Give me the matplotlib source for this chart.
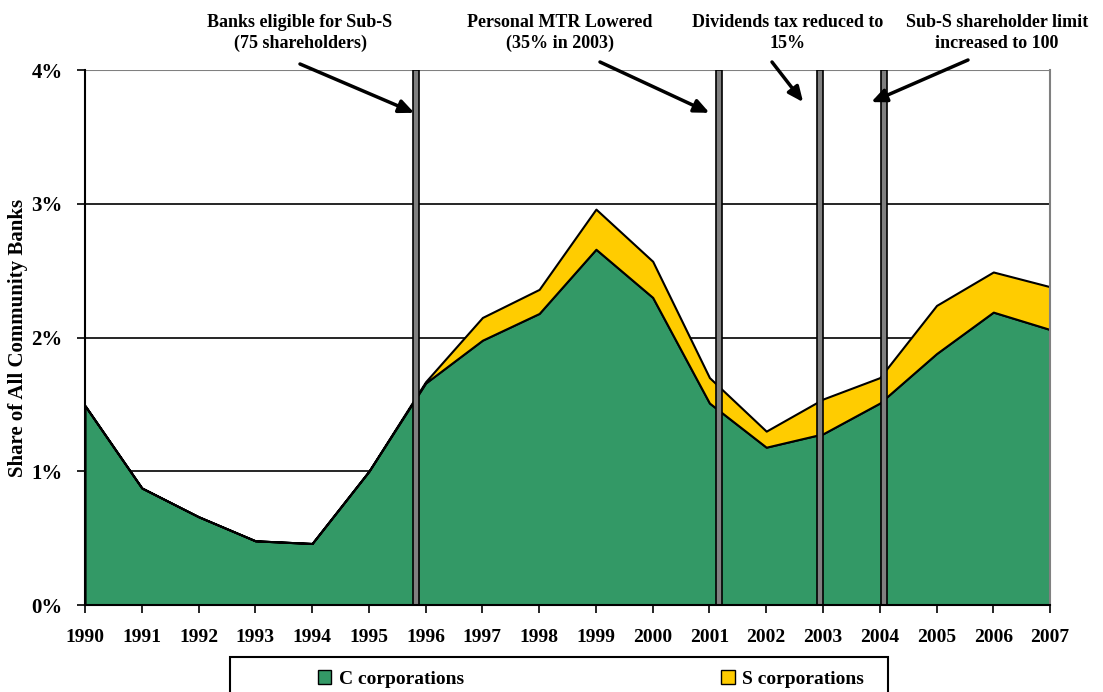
import numpy as np
import matplotlib
matplotlib.use('Agg')
import matplotlib.pyplot as plt
from matplotlib.patches import Patch, Rectangle

years = list(range(1990, 2008))
c_corp = [1.49, 0.875, 0.66, 0.48, 0.46, 1.00, 1.66, 1.98, 2.18, 2.66, 2.30,
          1.51, 1.18, 1.28, 1.51, 1.88, 2.19, 2.06]
s_corp = [0.0, 0.0, 0.0, 0.0, 0.0, 0.0, 0.01, 0.17, 0.18, 0.30, 0.27,
          0.19, 0.12, 0.26, 0.19, 0.36, 0.30, 0.32]

# event markers (fractional year) and their notes
event_x = [1995.83, 2001.17, 2002.95, 2004.08]
event_text = ['Banks eligible for Sub-S\n(75 shareholders)',
              'Personal MTR Lowered\n(35% in 2003)',
              'Dividends tax reduced to\n15%',
              'Sub-S shareholder limit\nincreased to 100']
yticks = [0, 1, 2, 3, 4]

plt.rcParams['font.family'] = ['Liberation Serif', 'DejaVu Serif']
plt.rcParams['font.weight'] = 'bold'

W, H = 1103, 692
fig = plt.figure(figsize=(W / 100, H / 100), dpi=100)
ax = fig.add_axes([0.0771, 0.1257, 0.8749, 0.7731])

green = '#339966'
yellow = '#FFCC00'

for v in yticks[1:4]:
    ax.axhline(v, color='black', lw=1.2, zorder=1)
ax.axhline(4, color='#808080', lw=1.5, zorder=1)

ax.stackplot(years, c_corp, s_corp, colors=[green, yellow],
             edgecolor='black', linewidth=1.5, zorder=2)

ax.bar(event_x, [4] * len(event_x), width=0.11, color='#808080',
       edgecolor='black', linewidth=1.2, zorder=3)

ax.set_xlim(1990, 2007)
ax.set_ylim(0, 4)
ax.set_yticks(yticks)
ax.set_yticklabels(['%d%%' % v for v in yticks], fontsize=15, fontweight='bold')
ax.set_xticks(years)
ax.set_xticklabels([str(y) for y in years], fontsize=14, fontweight='bold')
ax.tick_params(axis='both', direction='out', length=6, width=1.2, color='black')
ax.tick_params(axis='x', pad=11)
ax.tick_params(axis='y', pad=10)
ax.spines['top'].set_visible(False)
ax.spines['right'].set_color('#808080')
ax.spines['right'].set_linewidth(1.5)
ax.spines['left'].set_linewidth(1.5)
ax.spines['bottom'].set_linewidth(1.5)
ax.spines['bottom'].set_zorder(4)
ax.set_ylabel('Share of All Community Banks', fontsize=15, fontweight='bold')
ax.yaxis.set_label_coords(-0.059, 0.5)

# annotations (figure pixel positions for the text, data for arrow tips)
text_pos = [(300, 33), (560, 33), (788, 33), (997, 33)]
arrow_start = [(300, 64), (600, 62), (772, 62), (968, 60)]
arrow_tip = [(1995.8, 3.68), (2001.0, 3.68), (2002.65, 3.76), (2003.85, 3.76)]
for txt, tp, st, tip in zip(event_text, text_pos, arrow_start, arrow_tip):
    fig.text(tp[0] / W, 1 - tp[1] / H, txt, ha='center', va='center',
             fontsize=13, fontweight='bold', linespacing=1.3)
    ax.annotate('', xy=tip, xycoords='data',
                xytext=(st[0] / W, 1 - st[1] / H), textcoords='figure fraction',
                arrowprops=dict(arrowstyle='-|>,head_length=0.9,head_width=0.4',
                                color='black', lw=2.5, shrinkA=0, shrinkB=0),
                annotation_clip=False)

# legend box (runs off the bottom edge as in the reference)
fig.patches.append(Rectangle((230 / W, -0.05), 658 / W, 0.05 + 1 - 657 / H,
                             transform=fig.transFigure, facecolor='white',
                             edgecolor='black', linewidth=1.5))
handles = [Patch(facecolor=green, edgecolor='black'),
           Patch(facecolor=yellow, edgecolor='black')]
fig.legend(handles, ['C corporations', 'S corporations'], ncol=2,
           loc='center', bbox_to_anchor=(591 / W, 1 - 679 / H),
           frameon=False, prop={'size': 14, 'weight': 'bold'},
           handlelength=0.7, handleheight=0.7, handletextpad=0.4,
           columnspacing=13.2, borderpad=0, borderaxespad=0)

fig.savefig('out.png', dpi=100)
